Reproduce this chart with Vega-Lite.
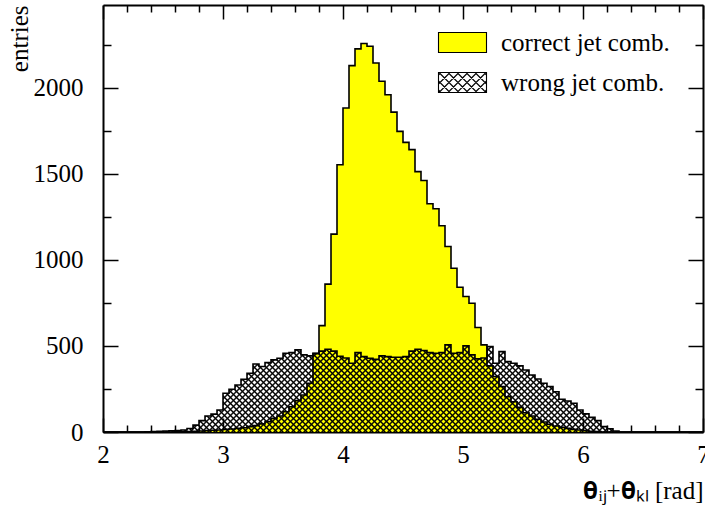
{
"$schema":"https://vega.github.io/schema/vega-lite/v6.json",
"width":600,"height":427,
"autosize":{"type":"none"},
"padding":{"left":103,"top":5,"right":2,"bottom":77},
"background":"white",
"config":{"view":{"stroke":null},
"axis":{"labelFont":"Liberation Serif","titleFont":"Liberation Serif","labelColor":"black","titleColor":"black","domainColor":"black","tickColor":"black","grid":false,"labelFontSize":25,"titleFontSize":25,"titleFontWeight":"normal","domainWidth":2,"tickWidth":1.5,"labelOverlap":false,"labelFlush":false},
"legend":{"labelFont":"Liberation Serif","labelFontSize":25,"labelColor":"black","labelLimit":0}},
"data":{"values":[
{"x":2.00,"c":0,"w":0},{"x":2.05,"c":0,"w":0},{"x":2.10,"c":0,"w":0},{"x":2.15,"c":0,"w":0},{"x":2.20,"c":0,"w":0},{"x":2.25,"c":0,"w":0},{"x":2.30,"c":0,"w":0},{"x":2.35,"c":0,"w":1},{"x":2.40,"c":0,"w":3},{"x":2.45,"c":0,"w":4},
{"x":2.50,"c":0,"w":6},{"x":2.55,"c":0,"w":7},{"x":2.60,"c":1,"w":9},{"x":2.65,"c":2,"w":12},{"x":2.70,"c":3,"w":20},{"x":2.75,"c":4,"w":40},{"x":2.80,"c":6,"w":66},{"x":2.85,"c":8,"w":93},{"x":2.90,"c":10,"w":104},{"x":2.95,"c":12,"w":128},
{"x":3.00,"c":15,"w":225},{"x":3.05,"c":17,"w":248},{"x":3.10,"c":21,"w":273},{"x":3.15,"c":25,"w":306},{"x":3.20,"c":31,"w":341},{"x":3.25,"c":37,"w":395},{"x":3.30,"c":47,"w":380},{"x":3.35,"c":60,"w":403},{"x":3.40,"c":79,"w":419},{"x":3.45,"c":93,"w":428},
{"x":3.50,"c":118,"w":457},{"x":3.55,"c":147,"w":461},{"x":3.60,"c":182,"w":477},{"x":3.65,"c":215,"w":448},{"x":3.70,"c":283,"w":442},{"x":3.75,"c":455,"w":457},{"x":3.80,"c":618,"w":470},{"x":3.85,"c":859,"w":481},{"x":3.90,"c":1149,"w":470},{"x":3.95,"c":1552,"w":440},
{"x":4.00,"c":1882,"w":430},{"x":4.05,"c":2128,"w":399},{"x":4.10,"c":2225,"w":461},{"x":4.15,"c":2256,"w":438},{"x":4.20,"c":2240,"w":428},{"x":4.25,"c":2143,"w":422},{"x":4.30,"c":2037,"w":442},{"x":4.35,"c":1959,"w":438},{"x":4.40,"c":1858,"w":434},{"x":4.45,"c":1746,"w":434},
{"x":4.50,"c":1682,"w":438},{"x":4.55,"c":1640,"w":470},{"x":4.60,"c":1512,"w":481},{"x":4.65,"c":1461,"w":473},{"x":4.70,"c":1326,"w":461},{"x":4.75,"c":1297,"w":457},{"x":4.80,"c":1198,"w":461},{"x":4.85,"c":1077,"w":506},{"x":4.90,"c":951,"w":457},{"x":4.95,"c":841,"w":461},
{"x":5.00,"c":787,"w":500},{"x":5.05,"c":748,"w":448},{"x":5.10,"c":607,"w":425},{"x":5.15,"c":506,"w":430},{"x":5.20,"c":384,"w":496},{"x":5.25,"c":322,"w":399},{"x":5.30,"c":264,"w":467},{"x":5.35,"c":205,"w":409},{"x":5.40,"c":176,"w":399},{"x":5.45,"c":143,"w":384},
{"x":5.50,"c":112,"w":360},{"x":5.55,"c":93,"w":331},{"x":5.60,"c":74,"w":308},{"x":5.65,"c":58,"w":283},{"x":5.70,"c":45,"w":264},{"x":5.75,"c":35,"w":234},{"x":5.80,"c":27,"w":190},{"x":5.85,"c":21,"w":180},{"x":5.90,"c":15,"w":167},{"x":5.95,"c":12,"w":128},
{"x":6.00,"c":8,"w":105},{"x":6.05,"c":4,"w":85},{"x":6.10,"c":2,"w":66},{"x":6.15,"c":0,"w":31},{"x":6.20,"c":0,"w":19},{"x":6.25,"c":0,"w":6},{"x":6.30,"c":0,"w":0},{"x":6.35,"c":0,"w":0},{"x":6.40,"c":0,"w":0},{"x":6.45,"c":0,"w":0},
{"x":6.50,"c":0,"w":0},{"x":6.55,"c":0,"w":0},{"x":6.60,"c":0,"w":0},{"x":6.65,"c":0,"w":0},{"x":6.70,"c":0,"w":0},{"x":6.75,"c":0,"w":0},{"x":6.80,"c":0,"w":0},{"x":6.85,"c":0,"w":0},{"x":6.90,"c":0,"w":0},{"x":6.95,"c":0,"w":0},
{"x":7.00,"c":0,"w":0}
]},
"resolve":{"axis":{"x":"independent","y":"independent"}},
"layer":[
{"mark":{"type":"area","interpolate":"step-after","fill":"#ffff00","opacity":1},
 "encoding":{
  "x":{"field":"x","type":"quantitative","scale":{"domain":[2,7],"nice":false,"zero":false},
   "axis":{"orient":"bottom","values":[2,2.2,2.4,2.6,2.8,3,3.2,3.4,3.6,3.8,4,4.2,4.4,4.6,4.8,5,5.2,5.4,5.6,5.8,6,6.2,6.4,6.6,6.8,7],
    "labelExpr":"abs(datum.value-round(datum.value))<0.01 ? format(datum.value,'d') : ''",
    "tickSize":{"condition":{"test":"abs(datum.value-round(datum.value))<0.01","value":-14},"value":-7},
    "labelPadding":24,"labelBaseline":"top","labelFont":"Liberation Serif","titleFont":"Liberation Serif",
    "title":"𝛉ᵢⱼ+𝛉ₖₗ [rad]","titleAnchor":"end","titleAlign":"right","titleX":600,"titleY":66,"titleBaseline":"alphabetic"}},
  "y":{"field":"c","type":"quantitative","scale":{"domain":[0,2480],"nice":false,"zero":false},
   "axis":{"orient":"left","values":[0,250,500,750,1000,1250,1500,1750,2000,2250],
    "labelExpr":"datum.value % 500 === 0 ? format(datum.value,'d') : ''",
    "tickSize":{"condition":{"test":"datum.value % 500 === 0","value":-15},"value":-8},
    "labelPadding":35,"labelFont":"Liberation Serif","titleFont":"Liberation Serif",
    "title":"entries","titleAngle":-90,"titleAlign":"right","titleX":-76,"titleY":0,"titleBaseline":"alphabetic"}}
 }},
{"mark":{"type":"line","interpolate":"step-after","stroke":"black","strokeWidth":1.6},
 "encoding":{
  "x":{"field":"x","type":"quantitative","scale":{"domain":[2,7],"nice":false,"zero":false},"axis":null},
  "y":{"field":"c","type":"quantitative","scale":{"domain":[0,2480],"nice":false,"zero":false},"axis":null}}},
{"mark":{"type":"area","interpolate":"step-after","opacity":1,"fill":{"gradient":"linear","x1":0,"y1":0,"x2":0.99894,"y2":0.14505,"stops":[
{"offset":0.0752,"color":"transparent"},{"offset":0.0784,"color":"black"},{"offset":0.0816,"color":"transparent"},
{"offset":0.085,"color":"transparent"},{"offset":0.0882,"color":"black"},{"offset":0.0914,"color":"transparent"},
{"offset":0.0948,"color":"transparent"},{"offset":0.098,"color":"black"},{"offset":0.1012,"color":"transparent"},
{"offset":0.1046,"color":"transparent"},{"offset":0.1078,"color":"black"},{"offset":0.111,"color":"transparent"},
{"offset":0.1144,"color":"transparent"},{"offset":0.1176,"color":"black"},{"offset":0.1208,"color":"transparent"},
{"offset":0.1243,"color":"transparent"},{"offset":0.1275,"color":"black"},{"offset":0.1307,"color":"transparent"},
{"offset":0.1341,"color":"transparent"},{"offset":0.1373,"color":"black"},{"offset":0.1405,"color":"transparent"},
{"offset":0.1439,"color":"transparent"},{"offset":0.1471,"color":"black"},{"offset":0.1503,"color":"transparent"},
{"offset":0.1537,"color":"transparent"},{"offset":0.1569,"color":"black"},{"offset":0.1601,"color":"transparent"},
{"offset":0.1635,"color":"transparent"},{"offset":0.1667,"color":"black"},{"offset":0.1699,"color":"transparent"},
{"offset":0.1733,"color":"transparent"},{"offset":0.1765,"color":"black"},{"offset":0.1797,"color":"transparent"},
{"offset":0.1831,"color":"transparent"},{"offset":0.1863,"color":"black"},{"offset":0.1895,"color":"transparent"},
{"offset":0.1929,"color":"transparent"},{"offset":0.1961,"color":"black"},{"offset":0.1993,"color":"transparent"},
{"offset":0.2027,"color":"transparent"},{"offset":0.2059,"color":"black"},{"offset":0.2091,"color":"transparent"},
{"offset":0.2125,"color":"transparent"},{"offset":0.2157,"color":"black"},{"offset":0.2189,"color":"transparent"},
{"offset":0.2223,"color":"transparent"},{"offset":0.2255,"color":"black"},{"offset":0.2287,"color":"transparent"},
{"offset":0.2321,"color":"transparent"},{"offset":0.2353,"color":"black"},{"offset":0.2385,"color":"transparent"},
{"offset":0.2419,"color":"transparent"},{"offset":0.2451,"color":"black"},{"offset":0.2483,"color":"transparent"},
{"offset":0.2517,"color":"transparent"},{"offset":0.2549,"color":"black"},{"offset":0.2581,"color":"transparent"},
{"offset":0.2615,"color":"transparent"},{"offset":0.2647,"color":"black"},{"offset":0.2679,"color":"transparent"},
{"offset":0.2713,"color":"transparent"},{"offset":0.2745,"color":"black"},{"offset":0.2777,"color":"transparent"},
{"offset":0.2811,"color":"transparent"},{"offset":0.2843,"color":"black"},{"offset":0.2875,"color":"transparent"},
{"offset":0.2909,"color":"transparent"},{"offset":0.2941,"color":"black"},{"offset":0.2973,"color":"transparent"},
{"offset":0.3007,"color":"transparent"},{"offset":0.3039,"color":"black"},{"offset":0.3071,"color":"transparent"},
{"offset":0.3105,"color":"transparent"},{"offset":0.3137,"color":"black"},{"offset":0.3169,"color":"transparent"},
{"offset":0.3203,"color":"transparent"},{"offset":0.3235,"color":"black"},{"offset":0.3267,"color":"transparent"},
{"offset":0.3301,"color":"transparent"},{"offset":0.3333,"color":"black"},{"offset":0.3365,"color":"transparent"},
{"offset":0.3399,"color":"transparent"},{"offset":0.3431,"color":"black"},{"offset":0.3463,"color":"transparent"},
{"offset":0.3497,"color":"transparent"},{"offset":0.3529,"color":"black"},{"offset":0.3561,"color":"transparent"},
{"offset":0.3595,"color":"transparent"},{"offset":0.3627,"color":"black"},{"offset":0.3659,"color":"transparent"},
{"offset":0.3693,"color":"transparent"},{"offset":0.3725,"color":"black"},{"offset":0.3757,"color":"transparent"},
{"offset":0.3792,"color":"transparent"},{"offset":0.3824,"color":"black"},{"offset":0.3856,"color":"transparent"},
{"offset":0.389,"color":"transparent"},{"offset":0.3922,"color":"black"},{"offset":0.3954,"color":"transparent"},
{"offset":0.3988,"color":"transparent"},{"offset":0.402,"color":"black"},{"offset":0.4052,"color":"transparent"},
{"offset":0.4086,"color":"transparent"},{"offset":0.4118,"color":"black"},{"offset":0.415,"color":"transparent"},
{"offset":0.4184,"color":"transparent"},{"offset":0.4216,"color":"black"},{"offset":0.4248,"color":"transparent"},
{"offset":0.4282,"color":"transparent"},{"offset":0.4314,"color":"black"},{"offset":0.4346,"color":"transparent"},
{"offset":0.438,"color":"transparent"},{"offset":0.4412,"color":"black"},{"offset":0.4444,"color":"transparent"},
{"offset":0.4478,"color":"transparent"},{"offset":0.451,"color":"black"},{"offset":0.4542,"color":"transparent"},
{"offset":0.4576,"color":"transparent"},{"offset":0.4608,"color":"black"},{"offset":0.464,"color":"transparent"},
{"offset":0.4674,"color":"transparent"},{"offset":0.4706,"color":"black"},{"offset":0.4738,"color":"transparent"},
{"offset":0.4772,"color":"transparent"},{"offset":0.4804,"color":"black"},{"offset":0.4836,"color":"transparent"},
{"offset":0.487,"color":"transparent"},{"offset":0.4902,"color":"black"},{"offset":0.4934,"color":"transparent"},
{"offset":0.4968,"color":"transparent"},{"offset":0.5,"color":"black"},{"offset":0.5032,"color":"transparent"},
{"offset":0.5066,"color":"transparent"},{"offset":0.5098,"color":"black"},{"offset":0.513,"color":"transparent"},
{"offset":0.5164,"color":"transparent"},{"offset":0.5196,"color":"black"},{"offset":0.5228,"color":"transparent"},
{"offset":0.5262,"color":"transparent"},{"offset":0.5294,"color":"black"},{"offset":0.5326,"color":"transparent"},
{"offset":0.536,"color":"transparent"},{"offset":0.5392,"color":"black"},{"offset":0.5424,"color":"transparent"},
{"offset":0.5458,"color":"transparent"},{"offset":0.549,"color":"black"},{"offset":0.5522,"color":"transparent"},
{"offset":0.5556,"color":"transparent"},{"offset":0.5588,"color":"black"},{"offset":0.562,"color":"transparent"},
{"offset":0.5654,"color":"transparent"},{"offset":0.5686,"color":"black"},{"offset":0.5718,"color":"transparent"},
{"offset":0.5752,"color":"transparent"},{"offset":0.5784,"color":"black"},{"offset":0.5816,"color":"transparent"},
{"offset":0.585,"color":"transparent"},{"offset":0.5882,"color":"black"},{"offset":0.5914,"color":"transparent"},
{"offset":0.5948,"color":"transparent"},{"offset":0.598,"color":"black"},{"offset":0.6012,"color":"transparent"},
{"offset":0.6046,"color":"transparent"},{"offset":0.6078,"color":"black"},{"offset":0.611,"color":"transparent"},
{"offset":0.6144,"color":"transparent"},{"offset":0.6176,"color":"black"},{"offset":0.6208,"color":"transparent"},
{"offset":0.6243,"color":"transparent"},{"offset":0.6275,"color":"black"},{"offset":0.6307,"color":"transparent"},
{"offset":0.6341,"color":"transparent"},{"offset":0.6373,"color":"black"},{"offset":0.6405,"color":"transparent"},
{"offset":0.6439,"color":"transparent"},{"offset":0.6471,"color":"black"},{"offset":0.6503,"color":"transparent"},
{"offset":0.6537,"color":"transparent"},{"offset":0.6569,"color":"black"},{"offset":0.6601,"color":"transparent"},
{"offset":0.6635,"color":"transparent"},{"offset":0.6667,"color":"black"},{"offset":0.6699,"color":"transparent"},
{"offset":0.6733,"color":"transparent"},{"offset":0.6765,"color":"black"},{"offset":0.6797,"color":"transparent"},
{"offset":0.6831,"color":"transparent"},{"offset":0.6863,"color":"black"},{"offset":0.6895,"color":"transparent"},
{"offset":0.6929,"color":"transparent"},{"offset":0.6961,"color":"black"},{"offset":0.6993,"color":"transparent"},
{"offset":0.7027,"color":"transparent"},{"offset":0.7059,"color":"black"},{"offset":0.7091,"color":"transparent"},
{"offset":0.7125,"color":"transparent"},{"offset":0.7157,"color":"black"},{"offset":0.7189,"color":"transparent"},
{"offset":0.7223,"color":"transparent"},{"offset":0.7255,"color":"black"},{"offset":0.7287,"color":"transparent"},
{"offset":0.7321,"color":"transparent"},{"offset":0.7353,"color":"black"},{"offset":0.7385,"color":"transparent"},
{"offset":0.7419,"color":"transparent"},{"offset":0.7451,"color":"black"},{"offset":0.7483,"color":"transparent"},
{"offset":0.7517,"color":"transparent"},{"offset":0.7549,"color":"black"},{"offset":0.7581,"color":"transparent"},
{"offset":0.7615,"color":"transparent"},{"offset":0.7647,"color":"black"},{"offset":0.7679,"color":"transparent"},
{"offset":0.7713,"color":"transparent"},{"offset":0.7745,"color":"black"},{"offset":0.7777,"color":"transparent"},
{"offset":0.7811,"color":"transparent"},{"offset":0.7843,"color":"black"},{"offset":0.7875,"color":"transparent"},
{"offset":0.7909,"color":"transparent"},{"offset":0.7941,"color":"black"},{"offset":0.7973,"color":"transparent"},
{"offset":0.8007,"color":"transparent"},{"offset":0.8039,"color":"black"},{"offset":0.8071,"color":"transparent"},
{"offset":0.8105,"color":"transparent"},{"offset":0.8137,"color":"black"},{"offset":0.8169,"color":"transparent"},
{"offset":0.8203,"color":"transparent"},{"offset":0.8235,"color":"black"},{"offset":0.8267,"color":"transparent"},
{"offset":0.8301,"color":"transparent"},{"offset":0.8333,"color":"black"},{"offset":0.8365,"color":"transparent"},
{"offset":0.8399,"color":"transparent"},{"offset":0.8431,"color":"black"},{"offset":0.8463,"color":"transparent"},
{"offset":0.8497,"color":"transparent"},{"offset":0.8529,"color":"black"},{"offset":0.8561,"color":"transparent"},
{"offset":0.8595,"color":"transparent"},{"offset":0.8627,"color":"black"},{"offset":0.8659,"color":"transparent"},
{"offset":0.8693,"color":"transparent"},{"offset":0.8725,"color":"black"},{"offset":0.8757,"color":"transparent"},
{"offset":0.8792,"color":"transparent"},{"offset":0.8824,"color":"black"},{"offset":0.8856,"color":"transparent"},
{"offset":0.889,"color":"transparent"},{"offset":0.8922,"color":"black"},{"offset":0.8954,"color":"transparent"},
{"offset":0.8988,"color":"transparent"},{"offset":0.902,"color":"black"},{"offset":0.9052,"color":"transparent"},
{"offset":0.9086,"color":"transparent"},{"offset":0.9118,"color":"black"},{"offset":0.915,"color":"transparent"},
{"offset":0.9184,"color":"transparent"},{"offset":0.9216,"color":"black"},{"offset":0.9248,"color":"transparent"},
{"offset":0.9282,"color":"transparent"},{"offset":0.9314,"color":"black"},{"offset":0.9346,"color":"transparent"},
{"offset":0.938,"color":"transparent"},{"offset":0.9412,"color":"black"},{"offset":0.9444,"color":"transparent"},
{"offset":0.9478,"color":"transparent"},{"offset":0.951,"color":"black"},{"offset":0.9542,"color":"transparent"},
{"offset":0.9576,"color":"transparent"},{"offset":0.9608,"color":"black"},{"offset":0.964,"color":"transparent"},
{"offset":0.9674,"color":"transparent"},{"offset":0.9706,"color":"black"},{"offset":0.9738,"color":"transparent"},
{"offset":0.9772,"color":"transparent"},{"offset":0.9804,"color":"black"},{"offset":0.9836,"color":"transparent"},
{"offset":0.987,"color":"transparent"},{"offset":0.9902,"color":"black"},{"offset":0.9934,"color":"transparent"}]}},
 "encoding":{
  "x":{"field":"x","type":"quantitative","scale":{"domain":[2,7],"nice":false,"zero":false},"axis":null},
  "y":{"field":"w","type":"quantitative","scale":{"domain":[0,2480],"nice":false,"zero":false},"axis":null}}},
{"mark":{"type":"area","interpolate":"step-after","opacity":1,"fill":{"gradient":"linear","x1":0,"y1":1,"x2":0.99894,"y2":0.85495,"stops":[
{"offset":0.0752,"color":"transparent"},{"offset":0.0784,"color":"black"},{"offset":0.0816,"color":"transparent"},
{"offset":0.085,"color":"transparent"},{"offset":0.0882,"color":"black"},{"offset":0.0914,"color":"transparent"},
{"offset":0.0948,"color":"transparent"},{"offset":0.098,"color":"black"},{"offset":0.1012,"color":"transparent"},
{"offset":0.1046,"color":"transparent"},{"offset":0.1078,"color":"black"},{"offset":0.111,"color":"transparent"},
{"offset":0.1144,"color":"transparent"},{"offset":0.1176,"color":"black"},{"offset":0.1208,"color":"transparent"},
{"offset":0.1243,"color":"transparent"},{"offset":0.1275,"color":"black"},{"offset":0.1307,"color":"transparent"},
{"offset":0.1341,"color":"transparent"},{"offset":0.1373,"color":"black"},{"offset":0.1405,"color":"transparent"},
{"offset":0.1439,"color":"transparent"},{"offset":0.1471,"color":"black"},{"offset":0.1503,"color":"transparent"},
{"offset":0.1537,"color":"transparent"},{"offset":0.1569,"color":"black"},{"offset":0.1601,"color":"transparent"},
{"offset":0.1635,"color":"transparent"},{"offset":0.1667,"color":"black"},{"offset":0.1699,"color":"transparent"},
{"offset":0.1733,"color":"transparent"},{"offset":0.1765,"color":"black"},{"offset":0.1797,"color":"transparent"},
{"offset":0.1831,"color":"transparent"},{"offset":0.1863,"color":"black"},{"offset":0.1895,"color":"transparent"},
{"offset":0.1929,"color":"transparent"},{"offset":0.1961,"color":"black"},{"offset":0.1993,"color":"transparent"},
{"offset":0.2027,"color":"transparent"},{"offset":0.2059,"color":"black"},{"offset":0.2091,"color":"transparent"},
{"offset":0.2125,"color":"transparent"},{"offset":0.2157,"color":"black"},{"offset":0.2189,"color":"transparent"},
{"offset":0.2223,"color":"transparent"},{"offset":0.2255,"color":"black"},{"offset":0.2287,"color":"transparent"},
{"offset":0.2321,"color":"transparent"},{"offset":0.2353,"color":"black"},{"offset":0.2385,"color":"transparent"},
{"offset":0.2419,"color":"transparent"},{"offset":0.2451,"color":"black"},{"offset":0.2483,"color":"transparent"},
{"offset":0.2517,"color":"transparent"},{"offset":0.2549,"color":"black"},{"offset":0.2581,"color":"transparent"},
{"offset":0.2615,"color":"transparent"},{"offset":0.2647,"color":"black"},{"offset":0.2679,"color":"transparent"},
{"offset":0.2713,"color":"transparent"},{"offset":0.2745,"color":"black"},{"offset":0.2777,"color":"transparent"},
{"offset":0.2811,"color":"transparent"},{"offset":0.2843,"color":"black"},{"offset":0.2875,"color":"transparent"},
{"offset":0.2909,"color":"transparent"},{"offset":0.2941,"color":"black"},{"offset":0.2973,"color":"transparent"},
{"offset":0.3007,"color":"transparent"},{"offset":0.3039,"color":"black"},{"offset":0.3071,"color":"transparent"},
{"offset":0.3105,"color":"transparent"},{"offset":0.3137,"color":"black"},{"offset":0.3169,"color":"transparent"},
{"offset":0.3203,"color":"transparent"},{"offset":0.3235,"color":"black"},{"offset":0.3267,"color":"transparent"},
{"offset":0.3301,"color":"transparent"},{"offset":0.3333,"color":"black"},{"offset":0.3365,"color":"transparent"},
{"offset":0.3399,"color":"transparent"},{"offset":0.3431,"color":"black"},{"offset":0.3463,"color":"transparent"},
{"offset":0.3497,"color":"transparent"},{"offset":0.3529,"color":"black"},{"offset":0.3561,"color":"transparent"},
{"offset":0.3595,"color":"transparent"},{"offset":0.3627,"color":"black"},{"offset":0.3659,"color":"transparent"},
{"offset":0.3693,"color":"transparent"},{"offset":0.3725,"color":"black"},{"offset":0.3757,"color":"transparent"},
{"offset":0.3792,"color":"transparent"},{"offset":0.3824,"color":"black"},{"offset":0.3856,"color":"transparent"},
{"offset":0.389,"color":"transparent"},{"offset":0.3922,"color":"black"},{"offset":0.3954,"color":"transparent"},
{"offset":0.3988,"color":"transparent"},{"offset":0.402,"color":"black"},{"offset":0.4052,"color":"transparent"},
{"offset":0.4086,"color":"transparent"},{"offset":0.4118,"color":"black"},{"offset":0.415,"color":"transparent"},
{"offset":0.4184,"color":"transparent"},{"offset":0.4216,"color":"black"},{"offset":0.4248,"color":"transparent"},
{"offset":0.4282,"color":"transparent"},{"offset":0.4314,"color":"black"},{"offset":0.4346,"color":"transparent"},
{"offset":0.438,"color":"transparent"},{"offset":0.4412,"color":"black"},{"offset":0.4444,"color":"transparent"},
{"offset":0.4478,"color":"transparent"},{"offset":0.451,"color":"black"},{"offset":0.4542,"color":"transparent"},
{"offset":0.4576,"color":"transparent"},{"offset":0.4608,"color":"black"},{"offset":0.464,"color":"transparent"},
{"offset":0.4674,"color":"transparent"},{"offset":0.4706,"color":"black"},{"offset":0.4738,"color":"transparent"},
{"offset":0.4772,"color":"transparent"},{"offset":0.4804,"color":"black"},{"offset":0.4836,"color":"transparent"},
{"offset":0.487,"color":"transparent"},{"offset":0.4902,"color":"black"},{"offset":0.4934,"color":"transparent"},
{"offset":0.4968,"color":"transparent"},{"offset":0.5,"color":"black"},{"offset":0.5032,"color":"transparent"},
{"offset":0.5066,"color":"transparent"},{"offset":0.5098,"color":"black"},{"offset":0.513,"color":"transparent"},
{"offset":0.5164,"color":"transparent"},{"offset":0.5196,"color":"black"},{"offset":0.5228,"color":"transparent"},
{"offset":0.5262,"color":"transparent"},{"offset":0.5294,"color":"black"},{"offset":0.5326,"color":"transparent"},
{"offset":0.536,"color":"transparent"},{"offset":0.5392,"color":"black"},{"offset":0.5424,"color":"transparent"},
{"offset":0.5458,"color":"transparent"},{"offset":0.549,"color":"black"},{"offset":0.5522,"color":"transparent"},
{"offset":0.5556,"color":"transparent"},{"offset":0.5588,"color":"black"},{"offset":0.562,"color":"transparent"},
{"offset":0.5654,"color":"transparent"},{"offset":0.5686,"color":"black"},{"offset":0.5718,"color":"transparent"},
{"offset":0.5752,"color":"transparent"},{"offset":0.5784,"color":"black"},{"offset":0.5816,"color":"transparent"},
{"offset":0.585,"color":"transparent"},{"offset":0.5882,"color":"black"},{"offset":0.5914,"color":"transparent"},
{"offset":0.5948,"color":"transparent"},{"offset":0.598,"color":"black"},{"offset":0.6012,"color":"transparent"},
{"offset":0.6046,"color":"transparent"},{"offset":0.6078,"color":"black"},{"offset":0.611,"color":"transparent"},
{"offset":0.6144,"color":"transparent"},{"offset":0.6176,"color":"black"},{"offset":0.6208,"color":"transparent"},
{"offset":0.6243,"color":"transparent"},{"offset":0.6275,"color":"black"},{"offset":0.6307,"color":"transparent"},
{"offset":0.6341,"color":"transparent"},{"offset":0.6373,"color":"black"},{"offset":0.6405,"color":"transparent"},
{"offset":0.6439,"color":"transparent"},{"offset":0.6471,"color":"black"},{"offset":0.6503,"color":"transparent"},
{"offset":0.6537,"color":"transparent"},{"offset":0.6569,"color":"black"},{"offset":0.6601,"color":"transparent"},
{"offset":0.6635,"color":"transparent"},{"offset":0.6667,"color":"black"},{"offset":0.6699,"color":"transparent"},
{"offset":0.6733,"color":"transparent"},{"offset":0.6765,"color":"black"},{"offset":0.6797,"color":"transparent"},
{"offset":0.6831,"color":"transparent"},{"offset":0.6863,"color":"black"},{"offset":0.6895,"color":"transparent"},
{"offset":0.6929,"color":"transparent"},{"offset":0.6961,"color":"black"},{"offset":0.6993,"color":"transparent"},
{"offset":0.7027,"color":"transparent"},{"offset":0.7059,"color":"black"},{"offset":0.7091,"color":"transparent"},
{"offset":0.7125,"color":"transparent"},{"offset":0.7157,"color":"black"},{"offset":0.7189,"color":"transparent"},
{"offset":0.7223,"color":"transparent"},{"offset":0.7255,"color":"black"},{"offset":0.7287,"color":"transparent"},
{"offset":0.7321,"color":"transparent"},{"offset":0.7353,"color":"black"},{"offset":0.7385,"color":"transparent"},
{"offset":0.7419,"color":"transparent"},{"offset":0.7451,"color":"black"},{"offset":0.7483,"color":"transparent"},
{"offset":0.7517,"color":"transparent"},{"offset":0.7549,"color":"black"},{"offset":0.7581,"color":"transparent"},
{"offset":0.7615,"color":"transparent"},{"offset":0.7647,"color":"black"},{"offset":0.7679,"color":"transparent"},
{"offset":0.7713,"color":"transparent"},{"offset":0.7745,"color":"black"},{"offset":0.7777,"color":"transparent"},
{"offset":0.7811,"color":"transparent"},{"offset":0.7843,"color":"black"},{"offset":0.7875,"color":"transparent"},
{"offset":0.7909,"color":"transparent"},{"offset":0.7941,"color":"black"},{"offset":0.7973,"color":"transparent"},
{"offset":0.8007,"color":"transparent"},{"offset":0.8039,"color":"black"},{"offset":0.8071,"color":"transparent"},
{"offset":0.8105,"color":"transparent"},{"offset":0.8137,"color":"black"},{"offset":0.8169,"color":"transparent"},
{"offset":0.8203,"color":"transparent"},{"offset":0.8235,"color":"black"},{"offset":0.8267,"color":"transparent"},
{"offset":0.8301,"color":"transparent"},{"offset":0.8333,"color":"black"},{"offset":0.8365,"color":"transparent"},
{"offset":0.8399,"color":"transparent"},{"offset":0.8431,"color":"black"},{"offset":0.8463,"color":"transparent"},
{"offset":0.8497,"color":"transparent"},{"offset":0.8529,"color":"black"},{"offset":0.8561,"color":"transparent"},
{"offset":0.8595,"color":"transparent"},{"offset":0.8627,"color":"black"},{"offset":0.8659,"color":"transparent"},
{"offset":0.8693,"color":"transparent"},{"offset":0.8725,"color":"black"},{"offset":0.8757,"color":"transparent"},
{"offset":0.8792,"color":"transparent"},{"offset":0.8824,"color":"black"},{"offset":0.8856,"color":"transparent"},
{"offset":0.889,"color":"transparent"},{"offset":0.8922,"color":"black"},{"offset":0.8954,"color":"transparent"},
{"offset":0.8988,"color":"transparent"},{"offset":0.902,"color":"black"},{"offset":0.9052,"color":"transparent"},
{"offset":0.9086,"color":"transparent"},{"offset":0.9118,"color":"black"},{"offset":0.915,"color":"transparent"},
{"offset":0.9184,"color":"transparent"},{"offset":0.9216,"color":"black"},{"offset":0.9248,"color":"transparent"},
{"offset":0.9282,"color":"transparent"},{"offset":0.9314,"color":"black"},{"offset":0.9346,"color":"transparent"},
{"offset":0.938,"color":"transparent"},{"offset":0.9412,"color":"black"},{"offset":0.9444,"color":"transparent"},
{"offset":0.9478,"color":"transparent"},{"offset":0.951,"color":"black"},{"offset":0.9542,"color":"transparent"},
{"offset":0.9576,"color":"transparent"},{"offset":0.9608,"color":"black"},{"offset":0.964,"color":"transparent"},
{"offset":0.9674,"color":"transparent"},{"offset":0.9706,"color":"black"},{"offset":0.9738,"color":"transparent"},
{"offset":0.9772,"color":"transparent"},{"offset":0.9804,"color":"black"},{"offset":0.9836,"color":"transparent"},
{"offset":0.987,"color":"transparent"},{"offset":0.9902,"color":"black"},{"offset":0.9934,"color":"transparent"}]}},
 "encoding":{
  "x":{"field":"x","type":"quantitative","scale":{"domain":[2,7],"nice":false,"zero":false},"axis":null},
  "y":{"field":"w","type":"quantitative","scale":{"domain":[0,2480],"nice":false,"zero":false},"axis":null}}},
{"mark":{"type":"line","interpolate":"step-after","stroke":"black","strokeWidth":1.6},
 "encoding":{
  "x":{"field":"x","type":"quantitative","scale":{"domain":[2,7],"nice":false,"zero":false},
   "axis":{"orient":"top","values":[2,2.2,2.4,2.6,2.8,3,3.2,3.4,3.6,3.8,4,4.2,4.4,4.6,4.8,5,5.2,5.4,5.6,5.8,6,6.2,6.4,6.6,6.8,7],"labels":false,"title":null,
    "tickSize":{"condition":{"test":"abs(datum.value-round(datum.value))<0.01","value":-14},"value":-7}}},
  "y":{"field":"w","type":"quantitative","scale":{"domain":[0,2480],"nice":false,"zero":false},
   "axis":{"orient":"right","values":[0,250,500,750,1000,1250,1500,1750,2000,2250],"labels":false,"title":null,
    "tickSize":{"condition":{"test":"datum.value % 500 === 0","value":-15},"value":-8}}}}},
{"data":{"values":[{"s":"correct jet comb."},{"s":"wrong jet comb."}]},
 "mark":{"type":"point","filled":true,"opacity":0},
 "encoding":{
  "color":{"field":"s","type":"nominal","scale":{"domain":["correct jet comb.","wrong jet comb."],"range":["#ffff00","#ffffff"]},
   "legend":{"title":null,"orient":"none","legendX":347,"legendY":25,"direction":"vertical","padding":0,
    "symbolSize":400,"labelOffset":26,"rowPadding":14,"labelFont":"Liberation Serif","labelFontSize":25,"labelColor":"black","labelLimit":0,
    "encode":{"symbols":{"update":{"opacity":{"value":1},"stroke":{"value":"black"},"strokeWidth":{"value":1.1}}}}}},
  "shape":{"field":"s","type":"nominal","scale":{"domain":["correct jet comb.","wrong jet comb."],"range":["M-2.4,-1L2.4,-1L2.4,1L-2.4,1Z","M-2.4,-1L2.4,-1L2.4,1L-2.4,1Z M-2.4,-0.75L-2.15,-1 M-2.4,0.15L-1.25,-1 M-2.35,1L-0.35,-1 M-1.45,1L0.55,-1 M-0.55,1L1.45,-1 M0.35,1L2.35,-1 M1.25,1L2.4,-0.15 M2.15,1L2.4,0.75 M-2.4,0.75L-2.15,1 M-2.4,-0.15L-1.25,1 M-2.35,-1L-0.35,1 M-1.45,-1L0.55,1 M-0.55,-1L1.45,1 M0.35,-1L2.35,1 M1.25,-1L2.4,0.15 M2.15,-1L2.4,-0.75"]},
   "legend":{"title":null,"orient":"none","legendX":347,"legendY":25,"direction":"vertical","padding":0,
    "symbolSize":400,"labelOffset":26,"rowPadding":14,"labelFont":"Liberation Serif","labelFontSize":25,"labelColor":"black","labelLimit":0,
    "encode":{"symbols":{"update":{"opacity":{"value":1},"stroke":{"value":"black"},"strokeWidth":{"value":1.1}}}}}}
 }}
]
}
